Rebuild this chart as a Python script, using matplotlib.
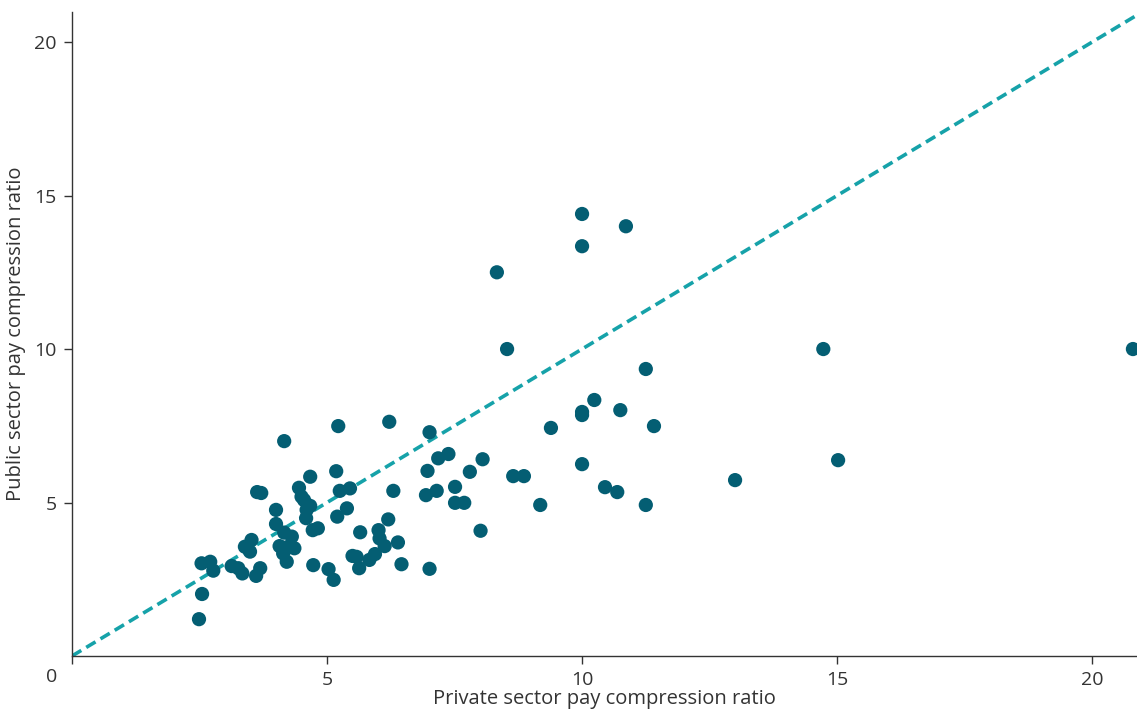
import matplotlib.pyplot as plt

# private sector ratio (x) vs public sector ratio (y)
private_ratio = [
    10.0, 10.86, 10.0, 8.33, 8.53, 14.73, 20.8, 11.25, 10.24, 10.0,
    10.0, 10.75, 11.41, 9.39, 6.22, 5.22, 4.16, 7.01, 7.38, 7.18,
    8.05, 7.8, 6.97, 10.0, 15.02, 13.0, 8.65, 8.86, 10.45, 10.69,
    11.25, 9.18, 8.01, 7.51, 7.15, 6.94, 7.51, 7.69, 7.01, 6.3,
    5.18, 4.67, 5.25, 5.45, 3.63, 3.71, 4.45, 4.5, 4.55, 4.67,
    4.6, 5.39, 5.2, 4.59, 4.0, 4.0, 4.72, 4.82, 5.65, 6.01,
    6.03, 6.13, 6.2, 6.39, 4.16, 4.31, 4.36, 4.07, 4.24, 4.14,
    4.21, 3.52, 3.39, 3.49, 2.54, 2.71, 2.77, 3.13, 3.26, 3.34,
    3.69, 3.61, 4.73, 5.03, 5.13, 5.5, 5.58, 5.63, 5.83, 5.94,
    6.46, 2.55, 2.49,
]
public_ratio = [
    14.4, 14.0, 13.35, 12.5, 10.0, 10.0, 10.0, 9.35, 8.34, 7.95,
    7.85, 8.01, 7.49, 7.43, 7.63, 7.49, 7.0, 7.29, 6.58, 6.44,
    6.41, 6.0, 6.03, 6.25, 6.38, 5.73, 5.86, 5.86, 5.5, 5.34,
    4.92, 4.92, 4.08, 5.51, 5.38, 5.24, 4.99, 4.99, 2.84, 5.38,
    6.02, 5.84, 5.38, 5.46, 5.34, 5.31, 5.48, 5.19, 5.08, 4.89,
    4.76, 4.81, 4.54, 4.49, 4.76, 4.3, 4.1, 4.16, 4.03, 4.1,
    3.83, 3.58, 4.45, 3.7, 4.02, 3.89, 3.51, 3.58, 3.56, 3.34,
    3.07, 3.78, 3.56, 3.4, 3.02, 3.07, 2.78, 2.93, 2.86, 2.69,
    2.86, 2.61, 2.96, 2.83, 2.48, 3.26, 3.23, 2.86, 3.13, 3.32,
    2.99, 2.02, 1.2,
]
ticks = [5, 10, 15, 20]

plt.rcParams['font.family'] = ['Open Sans', 'DejaVu Sans']
text_color = '#333333'

fig = plt.figure(figsize=(11.37, 7.13), dpi=100)
ax = fig.add_axes([72 / 1137, 57 / 713, 1065 / 1137, 644 / 713])

lim = 20.88
ax.plot([0, lim], [0, lim], linestyle=(0, (3, 1.6)), color='#16a2a9', lw=2.6, zorder=1)
ax.scatter(private_ratio, public_ratio, s=105, color='#045e73', edgecolors='none', zorder=2)

ax.set_xlim(0, lim)
ax.set_ylim(0, 20.98)
ax.set_xticks([0] + ticks)
ax.set_xticklabels([''] + [str(t) for t in ticks])
ax.set_yticks(ticks)
ax.tick_params(axis='both', direction='out', length=6, width=1, color='#333333',
               labelsize=14, labelcolor=text_color, pad=5)
ax.annotate('0', xy=(0, 0), xycoords='data', xytext=(-15, -15), textcoords='offset points',
            ha='center', va='center', fontsize=14, color=text_color)

for side in ['top', 'right']:
    ax.spines[side].set_visible(False)
for side in ['left', 'bottom']:
    ax.spines[side].set_color('#333333')
    ax.spines[side].set_linewidth(1)

ax.set_xlabel('Private sector pay compression ratio', fontsize=14.5, color=text_color, labelpad=0)
ax.set_ylabel('Public sector pay compression ratio', fontsize=14.5, color=text_color, labelpad=6)

fig.savefig('out.png', dpi=100)
